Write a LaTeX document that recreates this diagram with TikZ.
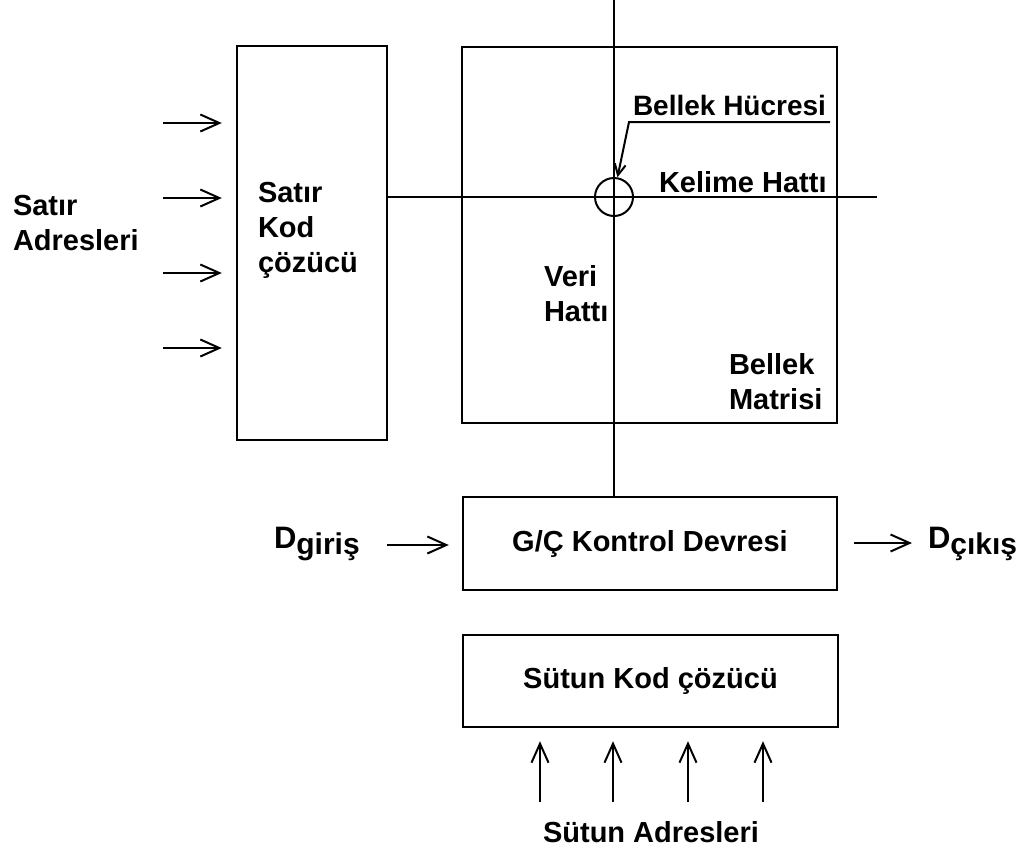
\documentclass[tikz,border=0pt]{standalone}
\usepackage{fontspec}
\setmainfont{Liberation Sans}
\usetikzlibrary{arrows.meta}
\tikzset{
  blok/.style={draw, line width=2.4pt, inner sep=0},
  yazi/.style={inner sep=0, align=left},
  sig/.style={line width=2pt, -{Straight Barb[length=19pt,width=17pt]}},
}

\begin{document}
\begin{tikzpicture}[x=1pt, y=-1pt, line width=2pt, font=\bfseries\fontsize{29}{35}\selectfont]
\useasboundingbox (0,0) rectangle (1025,852);
\node[blok, minimum width=150pt, minimum height=394pt] (rowdec) at (312,243) {};
\node[blok, minimum width=375pt, minimum height=376pt] (matris) at (649.5,235) {};
\node[blok, minimum width=374pt, minimum height=93pt] (gc) at (650,543.5) {G/Ç Kontrol Devresi};
\node[blok, minimum width=375pt, minimum height=92pt] (coldec) at (650.5,681) {Sütun Kod çözücü};
\node[yazi, anchor=north west] (satadr) at (12,194) {Satır\\Adresleri};
\node[yazi, anchor=north west] (satkod) at (257,181) {Satır\\Kod\\çözücü};
\node[yazi, anchor=north west] (veri) at (543,264) {Veri\\Hattı};
\node[yazi, anchor=north west] (bmatris) at (728,352) {Bellek\\Matrisi};
\node[yazi, anchor=base west, font=\bfseries\fontsize{28}{34}\selectfont] (hucre) at (632,115) {Bellek Hücresi};
\node[yazi, anchor=base west] (kelime) at (658,192) {Kelime Hattı};
\node[yazi, anchor=base] (sutadr) at (651,842) {Sütun Adresleri};
\node[yazi, anchor=base west] (din) at (273,548) {{\fontsize{31}{34}\selectfont D}\raisebox{-6pt}{\fontsize{30}{30}\selectfont giriş}};
\node[yazi, anchor=base west] (dout) at (927,548) {{\fontsize{31}{34}\selectfont D}\raisebox{-6pt}{\fontsize{30}{30}\selectfont çıkış}};
\node[draw, circle, minimum size=38pt, inner sep=0] (hn) at (614,197) {};
\coordinate (veriust) at (614,0);
\coordinate (kelimeson) at (877,197);
\draw (rowdec.east |- hn) -- (kelimeson);
\draw (veriust) -- (veriust |- gc.north);
\coordinate (altR) at (830,122);
\coordinate (altL) at (629,122);
\draw[-{Straight Barb[length=11pt,width=11pt]}] (altR) -- (altL) -- (hn.80);
\foreach \y [count=\i] in {123,198,273,348} {
  \coordinate (sa\i) at (163,\y);
  \draw[sig, shorten >=14pt] (sa\i) -- (rowdec.west |- sa\i);
}
\foreach \x [count=\i] in {540,613,688,763} {
  \coordinate (su\i) at (\x,802);
  \draw[sig, shorten >=13pt] (su\i) -- (su\i |- coldec.south);
}
\coordinate (dgir) at (387,545);
\coordinate (dcik) at (912,543);
\draw[sig, shorten >=13pt] (dgir) -- (gc.west |- dgir);
\draw[sig, shorten <=16pt] (gc.east |- dcik) -- (dcik);
\end{tikzpicture}
\end{document}
